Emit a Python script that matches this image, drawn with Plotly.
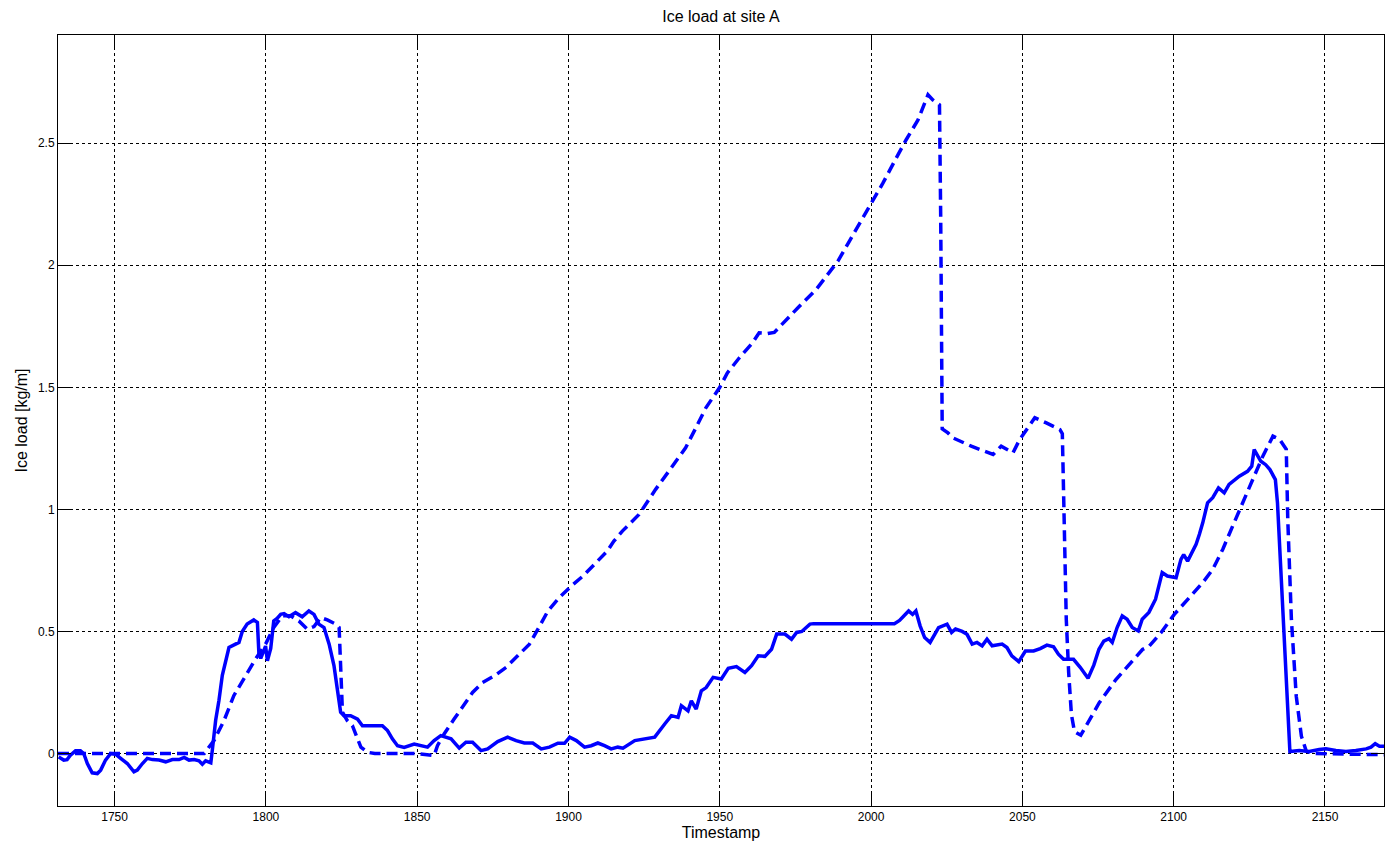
import plotly.graph_objects as go

# Measured ice load, solid trace
measured_t = [
    1731.5, 1733.2, 1734.3, 1735.4, 1737.1, 1738.7, 1739.8, 1741.0, 1742.6, 1744.3,
    1745.4, 1747.0, 1748.7, 1750.3, 1752.0, 1754.2, 1756.4, 1757.5, 1759.2, 1760.8,
    1762.5, 1764.7, 1766.9, 1769.1, 1771.3, 1773.0, 1774.6, 1776.3, 1777.9, 1779.0,
    1780.1, 1781.8, 1782.3, 1783.4, 1784.5, 1785.6, 1787.8, 1791.1, 1792.2, 1793.8,
    1796.0, 1797.2, 1797.7, 1798.3, 1799.9, 1800.5, 1801.6, 1802.6, 1803.7, 1804.9,
    1806.0, 1807.6, 1809.8, 1812.0, 1814.2, 1815.9, 1817.5, 1819.2, 1820.9, 1822.5,
    1823.6, 1824.7, 1825.8, 1828.0, 1830.3, 1831.9, 1834.1, 1836.9, 1838.5, 1840.2,
    1841.8, 1843.5, 1845.7, 1849.0, 1851.2, 1853.4, 1855.6, 1857.8, 1861.2, 1863.9,
    1866.1, 1868.3, 1871.1, 1873.3, 1876.6, 1879.9, 1882.7, 1885.4, 1888.2, 1891.0,
    1893.7, 1896.5, 1898.7, 1900.4, 1902.6, 1905.3, 1907.5, 1909.7, 1911.9, 1914.1,
    1916.3, 1918.0, 1921.9, 1926.3, 1928.5, 1931.8, 1934.0, 1936.2, 1937.3, 1939.5,
    1940.6, 1942.2, 1943.9, 1945.5, 1947.8, 1950.5, 1952.8, 1955.5, 1958.3, 1960.5,
    1962.7, 1964.9, 1967.1, 1968.8, 1971.5, 1973.7, 1975.4, 1977.1, 1979.8, 1981.0,
    2007.7, 2009.4, 2012.4, 2013.7, 2014.8, 2016.2, 2017.7, 2019.5, 2021.2, 2022.3,
    2025.1, 2026.6, 2027.9, 2030.1, 2031.7, 2033.4, 2035.0, 2036.7, 2038.3, 2040.0,
    2043.3, 2044.9, 2046.5, 2048.8, 2051.0, 2053.7, 2055.9, 2058.1, 2060.3, 2061.9,
    2063.6, 2066.9, 2069.1, 2071.7, 2073.6, 2075.3, 2076.9, 2078.6, 2079.7, 2081.3,
    2083.0, 2084.6, 2086.3, 2088.3, 2089.6, 2091.8, 2094.0, 2096.2, 2097.9, 2100.8,
    2102.4, 2103.3, 2104.6, 2107.4, 2108.5, 2109.6, 2111.2, 2112.9, 2114.8, 2116.7,
    2118.3, 2121.7, 2124.4, 2125.8, 2126.6, 2128.8, 2130.4, 2131.8, 2133.6, 2134.3,
    2135.4, 2136.5, 2137.6, 2138.4, 2141.5, 2144.8, 2148.1, 2150.3, 2153.6, 2156.9,
    2160.2, 2163.6, 2165.2, 2166.6, 2168.0, 2169.5,
]
measured_load = [
    -0.014, -0.027, -0.025, -0.007, 0.011, 0.011, 0.000, -0.041, -0.079, -0.082,
    -0.068, -0.027, 0.000, -0.003, -0.020, -0.041, -0.075, -0.068, -0.041, -0.020,
    -0.025, -0.027, -0.034, -0.025, -0.025, -0.016, -0.027, -0.025, -0.030, -0.044,
    -0.030, -0.038, 0.014, 0.136, 0.218, 0.320, 0.434, 0.455, 0.500, 0.530,
    0.547, 0.537, 0.407, 0.390, 0.440, 0.380, 0.430, 0.543, 0.553, 0.570,
    0.573, 0.560, 0.577, 0.560, 0.584, 0.570, 0.530, 0.516, 0.448, 0.360,
    0.264, 0.169, 0.155, 0.155, 0.141, 0.114, 0.114, 0.116, 0.114, 0.094,
    0.060, 0.032, 0.025, 0.039, 0.032, 0.026, 0.053, 0.073, 0.060, 0.022,
    0.046, 0.046, 0.012, 0.019, 0.049, 0.067, 0.053, 0.043, 0.043, 0.019,
    0.026, 0.042, 0.042, 0.067, 0.053, 0.026, 0.032, 0.043, 0.032, 0.019,
    0.026, 0.022, 0.053, 0.060, 0.067, 0.121, 0.155, 0.148, 0.196, 0.175,
    0.216, 0.182, 0.257, 0.270, 0.312, 0.305, 0.349, 0.356, 0.332, 0.360,
    0.400, 0.398, 0.427, 0.489, 0.489, 0.468, 0.496, 0.500, 0.530, 0.532,
    0.532, 0.545, 0.584, 0.570, 0.584, 0.523, 0.475, 0.455, 0.496, 0.516,
    0.530, 0.496, 0.510, 0.500, 0.488, 0.448, 0.455, 0.441, 0.468, 0.441,
    0.448, 0.434, 0.400, 0.376, 0.420, 0.420, 0.430, 0.444, 0.437, 0.407,
    0.386, 0.386, 0.353, 0.308, 0.362, 0.427, 0.460, 0.470, 0.455, 0.516,
    0.564, 0.550, 0.516, 0.502, 0.550, 0.578, 0.632, 0.741, 0.727, 0.720,
    0.795, 0.815, 0.788, 0.857, 0.898, 0.945, 1.027, 1.048, 1.088, 1.068,
    1.102, 1.136, 1.156, 1.177, 1.245, 1.197, 1.183, 1.163, 1.122, 1.027,
    0.754, 0.482, 0.210, 0.008, 0.012, 0.008, 0.016, 0.019, 0.012, 0.008,
    0.012, 0.019, 0.026, 0.040, 0.030, 0.030,
]

# Modelled ice load, dashed trace
model_t = [
    1731.3, 1779.6, 1782.9, 1786.2, 1789.4, 1793.3, 1796.6, 1799.9, 1802.6, 1805.4,
    1808.2, 1810.9, 1813.7, 1815.9, 1818.1, 1820.3, 1823.1, 1824.2, 1824.7, 1825.3,
    1826.9, 1828.6, 1830.3, 1831.4, 1833.6, 1836.0, 1850.0, 1853.0, 1855.6, 1856.7,
    1858.9, 1862.2, 1865.6, 1868.3, 1871.6, 1875.5, 1879.4, 1883.2, 1887.1, 1889.9,
    1893.2, 1897.0, 1900.9, 1904.8, 1908.5, 1912.8, 1915.0, 1917.8, 1923.3, 1925.5,
    1928.8, 1933.2, 1938.7, 1942.1, 1945.4, 1950.0, 1952.5, 1956.4, 1960.8, 1963.0,
    1965.8, 1968.0, 1971.9, 1976.3, 1981.8, 1986.2, 1989.0, 1992.8, 1997.2, 2000.0,
    2003.9, 2008.3, 2011.6, 2015.5, 2018.8, 2020.4, 2022.6, 2023.0, 2023.5, 2025.4,
    2027.0, 2033.1, 2040.3, 2043.0, 2046.9, 2049.1, 2054.1, 2057.9, 2062.4, 2063.2,
    2063.8, 2064.5, 2065.3, 2066.2, 2067.2, 2069.3, 2071.0, 2075.4, 2080.9, 2085.3,
    2089.7, 2091.9, 2095.8, 2100.2, 2105.2, 2109.6, 2112.9, 2116.2, 2119.5, 2122.8,
    2126.2, 2129.5, 2132.8, 2135.0, 2137.2, 2137.7, 2138.9, 2140.5, 2142.2, 2143.8,
    2146.0, 2169.5,
]
model_load = [
    0.000, 0.000, 0.054, 0.136, 0.237, 0.318, 0.387, 0.448, 0.516, 0.564,
    0.564, 0.543, 0.509, 0.520, 0.557, 0.547, 0.530, 0.516, 0.332, 0.169,
    0.135, 0.114, 0.060, 0.026, 0.005, 0.000, 0.000, -0.005, -0.008, 0.032,
    0.080, 0.141, 0.203, 0.250, 0.291, 0.318, 0.353, 0.400, 0.448, 0.509,
    0.584, 0.639, 0.686, 0.727, 0.775, 0.829, 0.870, 0.911, 0.979, 1.020,
    1.082, 1.157, 1.252, 1.334, 1.416, 1.500, 1.559, 1.620, 1.682, 1.723,
    1.720, 1.725, 1.777, 1.832, 1.900, 1.968, 2.016, 2.098, 2.193, 2.255,
    2.336, 2.439, 2.514, 2.595, 2.698, 2.677, 2.657, 2.200, 1.330, 1.313,
    1.293, 1.259, 1.225, 1.259, 1.232, 1.286, 1.375, 1.354, 1.327, 1.310,
    0.950, 0.550, 0.330, 0.160, 0.090, 0.075, 0.112, 0.208, 0.303, 0.365,
    0.426, 0.440, 0.495, 0.570, 0.638, 0.700, 0.754, 0.836, 0.932, 1.027,
    1.130, 1.219, 1.300, 1.287, 1.246, 0.959, 0.549, 0.235, 0.071, 0.010,
    0.000, -0.005,
]

x_ticks = [1750, 1800, 1850, 1900, 1950, 2000, 2050, 2100, 2150]
y_ticks = [0, 0.5, 1, 1.5, 2, 2.5]
y_tick_text = ["0", "0.5", "1", "1.5", "2", "2.5"]

BLUE = "#0000FF"
FONT = "Liberation Sans, Arial, sans-serif"

fig = go.Figure()
fig.add_trace(go.Scatter(
    x=measured_t, y=measured_load, mode="lines",
    line=dict(color=BLUE, width=3.5), showlegend=False,
))
fig.add_trace(go.Scatter(
    x=model_t, y=model_load, mode="lines",
    line=dict(color=BLUE, width=3.5, dash="11px,6px"), showlegend=False,
))

axis_common = dict(
    showline=True, linecolor="#000000", linewidth=1, mirror="ticks",
    ticks="inside", ticklen=13, tickcolor="#000000", tickwidth=1,
    showgrid=True, gridcolor="#000000", gridwidth=1, griddash="3px,3px",
    zeroline=False, tickfont=dict(family=FONT, size=12, color="#000000"),
)

fig.update_layout(
    width=1385, height=848,
    margin=dict(l=58, r=1, t=35, b=42),
    paper_bgcolor="white", plot_bgcolor="white",
    title=dict(text="Ice load at site A", x=0.5205, xanchor="center",
               y=1 - 16 / 848, yanchor="middle", yref="container",
               font=dict(family=FONT, size=16, color="#000000")),
    xaxis=dict(range=[1731.3, 2169.5], tickvals=x_ticks,
               title=dict(text="Timestamp", standoff=3,
                          font=dict(family=FONT, size=16, color="#000000")),
               **axis_common),
    yaxis=dict(range=[-0.215, 2.943], tickvals=y_ticks, ticktext=y_tick_text,
               title=dict(text="Ice load [kg/m]", standoff=6,
                          font=dict(family=FONT, size=16, color="#000000")),
               **axis_common),
)

fig.write_html("out.html")
